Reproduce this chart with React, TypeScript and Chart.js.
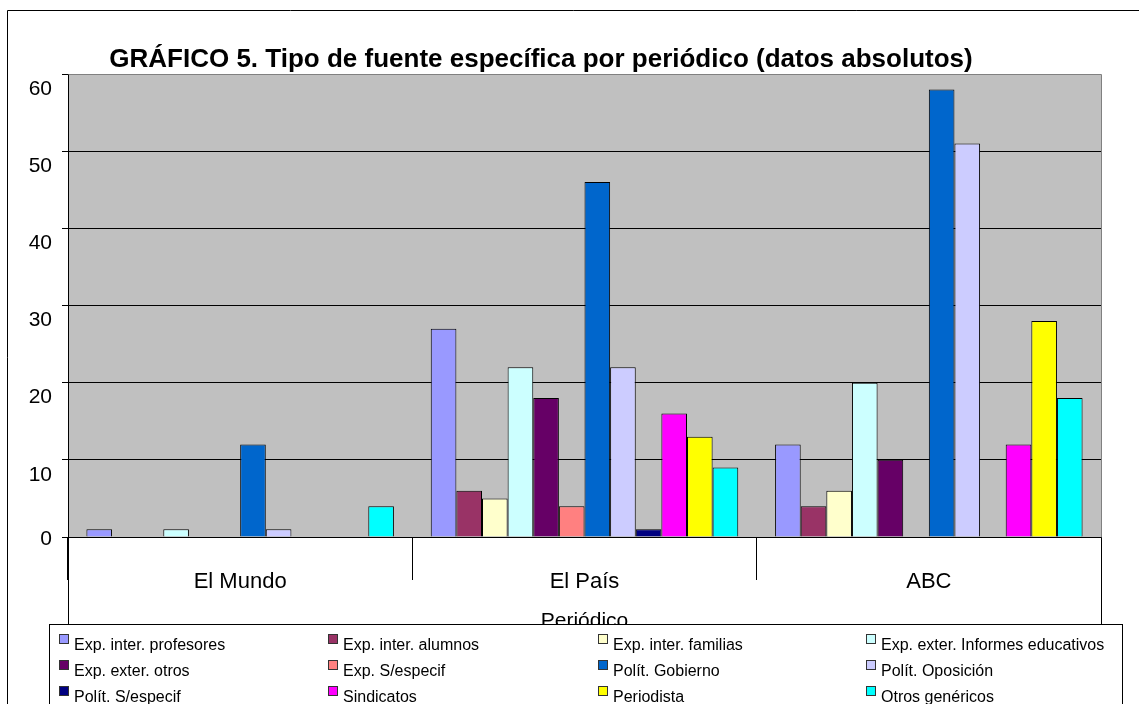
import React, { useEffect, useRef } from "react";
import { Chart, registerables } from "chart.js";

Chart.register(...registerables);

// ---------- data ----------
const categories = ["El Mundo", "El País", "ABC"];

const seriesNames = [
  "Exp. inter. profesores",
  "Exp. inter. alumnos",
  "Exp. inter. familias",
  "Exp. exter. Informes educativos",
  "Exp. exter. otros",
  "Exp. S/especif",
  "Polít. Gobierno",
  "Polít. Oposición",
  "Polít. S/especif",
  "Sindicatos",
  "Periodista",
  "Otros genéricos",
];

const seriesColors = [
  "#9999FF",
  "#993366",
  "#FFFFCC",
  "#CCFFFF",
  "#660066",
  "#FF8080",
  "#0066CC",
  "#CCCCFF",
  "#000080",
  "#FF00FF",
  "#FFFF00",
  "#00FFFF",
];

const expInterProfesores = [1, 27, 12];
const expInterAlumnos = [0, 6, 4];
const expInterFamilias = [0, 5, 6];
const expExterInformes = [1, 22, 20];
const expExterOtros = [0, 18, 10];
const expSEspecif = [0, 4, 0];
const politGobierno = [12, 46, 58];
const politOposicion = [1, 22, 51];
const politSEspecif = [0, 1, 0];
const sindicatos = [0, 16, 12];
const periodista = [0, 13, 28];
const otrosGenericos = [4, 9, 18];

const seriesValues = [
  expInterProfesores,
  expInterAlumnos,
  expInterFamilias,
  expExterInformes,
  expExterOtros,
  expSEspecif,
  politGobierno,
  politOposicion,
  politSEspecif,
  sindicatos,
  periodista,
  otrosGenericos,
];

const yTicks = [0, 10, 20, 30, 40, 50, 60];
const chartTitle = "GRÁFICO 5. Tipo de fuente específica por periódico (datos absolutos)";
const xAxisTitle = "Periódico";

const FONT = '"Liberation Sans", Arial, sans-serif';

// ---------- plugins ----------
const backgroundPlugin = {
  id: "bgPlot",
  beforeDraw(chart: any) {
    const { ctx, chartArea } = chart;
    ctx.save();
    ctx.fillStyle = "#FFFFFF";
    ctx.fillRect(0, 0, chart.width, chart.height);
    ctx.fillStyle = "#C0C0C0";
    ctx.fillRect(
      chartArea.left,
      chartArea.top,
      chartArea.right - chartArea.left,
      chartArea.bottom - chartArea.top
    );
    ctx.restore();
  },
};

const decorPlugin = {
  id: "decor",
  afterDraw(chart: any) {
    const { ctx, chartArea } = chart;
    const L = Math.round(chartArea.left) + 0.5;
    const R = Math.round(chartArea.right) + 0.5;
    const T = Math.round(chartArea.top) + 0.5;
    const B = Math.round(chartArea.bottom) + 0.5;
    const legendTop = 624.5;
    ctx.save();

    // outer chart border
    ctx.strokeStyle = "#000000";
    ctx.lineWidth = 1;
    ctx.beginPath();
    ctx.moveTo(7.5, chart.height);
    ctx.lineTo(7.5, 10.5);
    ctx.lineTo(chart.width, 10.5);
    ctx.stroke();

    // plot area top/right border (grey)
    ctx.strokeStyle = "#808080";
    ctx.beginPath();
    ctx.moveTo(L, T);
    ctx.lineTo(R, T);
    ctx.lineTo(R, B);
    ctx.stroke();

    // outer verticals of the category table below the axis
    ctx.strokeStyle = "#000000";
    ctx.beginPath();
    ctx.moveTo(L, B);
    ctx.lineTo(L, legendTop);
    ctx.moveTo(R, B);
    ctx.lineTo(R, legendTop);
    ctx.stroke();

    // title
    ctx.fillStyle = "#000000";
    ctx.font = `bold 26px ${FONT}`;
    ctx.textAlign = "center";
    ctx.textBaseline = "alphabetic";
    ctx.fillText(chartTitle, 541, 67);

    // axis title
    ctx.font = `21px ${FONT}`;
    ctx.fillText(xAxisTitle, (chartArea.left + chartArea.right) / 2, 627);

    // legend box
    ctx.fillStyle = "#FFFFFF";
    ctx.fillRect(49.5, legendTop, 1073, 200);
    ctx.strokeStyle = "#000000";
    ctx.strokeRect(49.5, legendTop, 1073, 200);

    // legend items
    const colX = [59, 328, 598, 866];
    ctx.font = `16px ${FONT}`;
    ctx.textAlign = "left";
    ctx.textBaseline = "middle";
    chart.data.datasets.forEach((ds: any, i: number) => {
      const col = i % 4;
      const row = Math.floor(i / 4);
      const x = colX[col];
      const yMid = 646 + row * 26;
      ctx.fillStyle = ds.backgroundColor;
      ctx.fillRect(x + 0.5, yMid - 12 + 0.5, 9, 9);
      ctx.strokeStyle = "#333333";
      ctx.strokeRect(x + 0.5, yMid - 12 + 0.5, 9, 9);
      ctx.fillStyle = "#000000";
      ctx.fillText(ds.label, x + 15, yMid);
    });

    ctx.restore();
  },
};

export default function App() {
  const canvasRef = useRef<HTMLCanvasElement | null>(null);

  useEffect(() => {
    const canvas = canvasRef.current;
    if (!canvas) return;

    const datasets = seriesNames.map((name, i) => ({
      label: name,
      data: seriesValues[i],
      backgroundColor: seriesColors[i],
      borderColor: "#000000",
      borderWidth: 1,
      categoryPercentage: 0.893,
      barPercentage: 1.0,
    }));

    const chart = new Chart(canvas, {
      type: "bar",
      data: { labels: categories, datasets },
      options: {
        responsive: false,
        animation: false,
        devicePixelRatio: 1,
        events: [],
        layout: { padding: { top: 74, right: 38, left: 0, bottom: 0 } },
        plugins: {
          legend: { display: false },
          title: { display: false },
          tooltip: { enabled: false },
        },
        scales: {
          x: {
            grid: {
              display: true,
              drawOnChartArea: false,
              drawTicks: true,
              tickLength: 43,
              color: "#000000",
              offset: true,
            },
            border: { display: true, color: "#000000", width: 1 },
            ticks: {
              color: "#000000",
              font: { family: FONT, size: 22 },
              padding: -11,
              maxRotation: 0,
            },
            afterFit(scale: any) {
              scale.height = 167;
            },
          },
          y: {
            min: yTicks[0],
            max: yTicks[yTicks.length - 1],
            afterBuildTicks(scale: any) {
              scale.ticks = yTicks.map((v) => ({ value: v }));
            },
            grid: {
              color: (ctx: any) =>
                ctx.tick && ctx.tick.value === yTicks[yTicks.length - 1] ? "#808080" : "#000000",
              tickColor: "#000000",
              drawTicks: true,
              tickLength: 6,
            },
            border: { display: true, color: "#000000", width: 1 },
            ticks: {
              color: "#000000",
              font: { family: FONT, size: 21 },
              padding: 10,
              labelOffset: 15,
              callback: (v: any) => (Number(v) === 0 ? ["0", ""] : String(v)),
            },
            afterFit(scale: any) {
              scale.width = 68;
            },
          },
        },
      },
      plugins: [backgroundPlugin, decorPlugin],
    });

    return () => chart.destroy();
  }, []);

  return (
    <canvas
      ref={canvasRef}
      width={1139}
      height={704}
      style={{ position: "fixed", left: 0, top: 0, display: "block", width: 1139, height: 704 }}
    />
  );
}
